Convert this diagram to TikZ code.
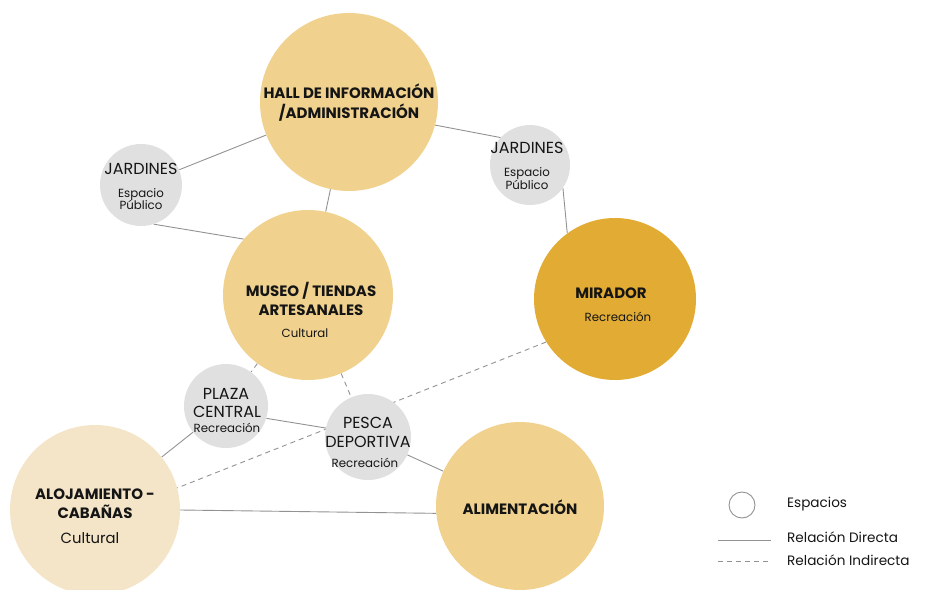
\documentclass[tikz,border=0pt]{standalone}
\usepackage{fontspec}
\setmainfont{Poppins}
\usetikzlibrary{backgrounds}
\definecolor{goldA}{HTML}{F0D18D}
\definecolor{goldB}{HTML}{E2AC34}
\definecolor{cream}{HTML}{F4E4C8}
\definecolor{grayC}{HTML}{E0E0E0}
\definecolor{lineC}{HTML}{929292}
\definecolor{txt}{HTML}{151515}
\tikzset{
  bubble/.style={circle, inner sep=0pt, draw=none},
  ttl/.style={anchor=base, inner sep=0pt, text=txt, font=\fontsize{15}{17}\selectfont\bfseries},
  gttl/.style={anchor=base, inner sep=0pt, text=txt, font=\fontsize{16}{18}\selectfont},
  sub/.style={anchor=base, inner sep=0pt, text=txt, font=\fontsize{11.8}{13}\selectfont},
  leg/.style={anchor=base west, inner sep=0pt, text=txt, font=\fontsize{13.6}{15}\selectfont},
  rel/.style={draw=lineC, line width=0.9pt},
  irel/.style={draw=lineC, line width=0.9pt, dash pattern=on 5pt off 4pt},
}
\begin{document}
\begin{tikzpicture}[x=1pt,y=-1pt]
\useasboundingbox (0,0) rectangle (926,589);
% circles
\node[bubble, fill=goldA, minimum size=178pt] (hall) at (349,102) {};
\node[bubble, fill=grayC, minimum size=82pt] (jardL) at (141,185) {};
\node[bubble, fill=grayC, minimum size=80pt] (jardR) at (530,165) {};
\node[bubble, fill=goldA, minimum size=170pt] (museo) at (308,295) {};
\node[bubble, fill=goldB, minimum size=162pt] (mirador) at (615,299) {};
\node[bubble, fill=grayC, minimum size=84pt] (plaza) at (226,406) {};
\node[bubble, fill=grayC, minimum size=86pt] (pesca) at (368,437) {};
\node[bubble, fill=cream, minimum size=170pt] (aloja) at (95,510) {};
\node[bubble, fill=goldA, minimum size=168pt] (alim) at (520,506) {};
% connectors
\begin{scope}[on background layer]
\draw[rel] (hall) -- (jardL);
\draw[rel] (hall.-15) -- (jardR.137);
\draw[rel] (hall) -- (museo);
\draw[rel] (jardL.-72) -- (museo.139);
\draw[rel] (jardR.-35) -- (mirador.126);
\draw[irel] (museo) -- (pesca);
\draw[irel] (museo) -- (plaza);
\draw[rel] (plaza.-17) -- (pesca.168);
\draw[rel] (plaza) -- (aloja);
\draw[rel] (pesca) -- (alim);
\draw[rel] (aloja.0) -- (alim.185);
\draw[irel] (mirador.-148) -- (aloja.15);
\end{scope}
% texts
\node[ttl] (hall1) at (349,98.5) {HALL DE INFORMACIÓN};
\node[ttl] (hall2) at (349,118.5) {/ADMINISTRACIÓN};
\node[gttl] (jardL1) at (141,174.5) {JARDINES};
\node[sub] (jardL2) at (141,197) {Espacio};
\node[sub] (jardL3) at (141,209) {Público};
\node[gttl] (jardR1) at (527,153.5) {JARDINES};
\node[sub] (jardR2) at (527,176) {Espacio};
\node[sub] (jardR3) at (527,189) {Público};
\node[ttl] (museo1) at (311,296.5) {MUSEO / TIENDAS};
\node[ttl] (museo2) at (311,315.5) {ARTESANALES};
\node[sub] (museo3) at (305,337.5) {Cultural};
\node[ttl] (mirador1) at (611,298.5) {MIRADOR};
\node[sub] (mirador2) at (618,321.5) {Recreación};
\node[gttl] (plaza1) at (226,399) {PLAZA};
\node[gttl] (plaza2) at (227,417) {CENTRAL};
\node[sub] (plaza3) at (227,432.5) {Recreación};
\node[gttl] (pesca1) at (368,428) {PESCA};
\node[gttl] (pesca2) at (368,447) {DEPORTIVA};
\node[sub] (pesca3) at (365,467.5) {Recreación};
\node[ttl] (aloja1) at (95,499.5) {ALOJAMIENTO -};
\node[ttl] (aloja2) at (95,518.5) {CABAÑAS};
\node[sub, font=\fontsize{14.8}{16}\selectfont] (aloja3) at (90,543) {Cultural};
\node[ttl] (alim1) at (520,514.5) {ALIMENTACIÓN};
% legend
\node[circle, draw=lineC, line width=0.9pt, fill=white, minimum size=26pt, inner sep=0pt] (legC) at (742,505) {};
\node[leg] (legT1) at (787,507.5) {Espacios};
\coordinate (ld1) at (718,540);
\coordinate (ld2) at (771,540);
\draw[draw=lineC, line width=0.8pt] (ld1) -- (ld2);
\node[leg] (legT2) at (787,542.5) {Relación Directa};
\coordinate (li1) at (718,561);
\coordinate (li2) at (771,561);
\draw[irel] (li1) -- (li2);
\node[leg] (legT3) at (787,565.5) {Relación Indirecta};
\end{tikzpicture}
\end{document}
